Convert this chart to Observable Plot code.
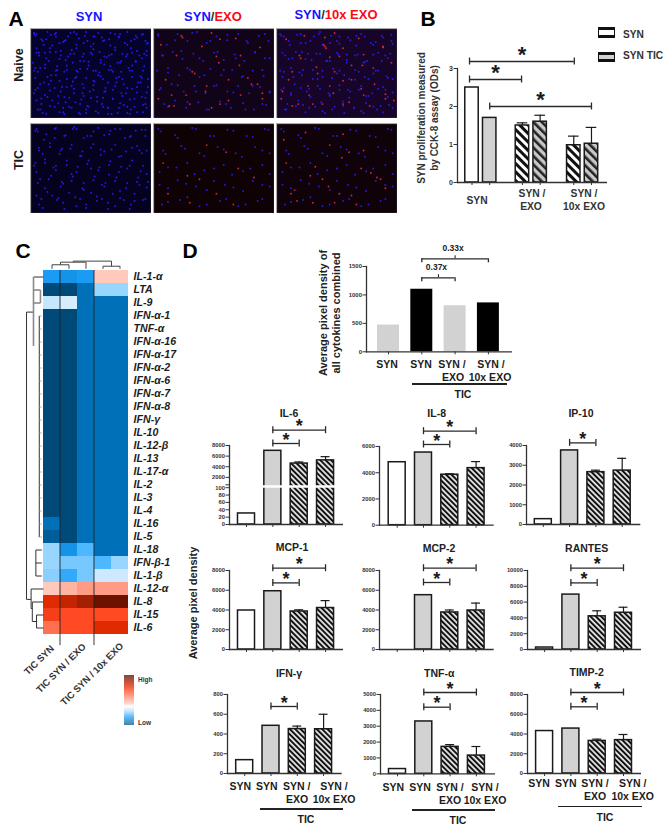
<!DOCTYPE html>
<html><head><meta charset="utf-8">
<script src="https://cdn.jsdelivr.net/npm/d3@7"></script>
<script src="https://cdn.jsdelivr.net/npm/@observablehq/plot@0.6"></script>
<style>
html,body{margin:0;padding:0;background:#fff}
#fig{position:relative;width:668px;height:828px;overflow:hidden;font-family:"Liberation Sans",Arial,sans-serif;color:#1c1c1c}
#fig .t{position:absolute;white-space:nowrap;font-weight:bold;line-height:1}
#fig>div>svg{overflow:visible}
</style></head><body><div id="fig"></div>
<script>
// ---------- Panel A: spots (percent of image width / height)
const aNaiveSynBlue=[[3,5],[9,12],[14,4],[21,9],[27,15],[33,5],[40,11],[46,4],[53,9],[60,14],[66,5],[73,10],[80,4],[86,12],[93,6],[97,16],[5,22],[12,27],[18,19],[25,25],[31,31],[38,22],[44,28],[50,20],[57,26],[63,32],[70,21],[76,28],[83,22],[90,30],[96,25],[2,38],[8,44],[15,36],[22,42],[28,48],[35,38],[41,45],[48,37],[54,47],[61,40],[67,46],[74,38],[81,44],[87,37],[94,42],[4,55],[11,60],[17,52],[24,58],[30,65],[37,55],[43,62],[52,58],[58,53],[64,60],[71,55],[77,62],[84,54],[91,60],[97,56],[3,72],[9,78],[16,69],[23,75],[29,82],[36,72],[42,79],[49,70],[55,76],[62,70],[68,78],[75,72],[82,79],[88,71],[95,77],[6,90],[13,95],[20,87],[27,93],[34,88],[41,95],[47,86],[54,92],[60,87],[67,95],[73,88],[80,94],[86,87],[93,93]];
const aNaiveSynRed=[[55,68],[42,88]];
const aNaiveExoBlue=[[4,8],[11,18],[20,6],[28,14],[36,4],[44,16],[52,9],[61,13],[70,6],[78,16],[87,8],[95,14],[7,30],[16,26],[24,34],[33,28],[41,36],[50,27],[58,35],[67,29],[75,36],[84,27],[92,33],[3,47],[12,44],[21,52],[30,46],[38,54],[47,45],[56,52],[65,46],[73,54],[82,47],[91,53],[6,66],[15,62],[25,70],[34,64],[43,72],[52,63],[61,70],[70,64],[79,72],[88,65],[96,71],[9,84],[18,80],[27,88],[37,82],[46,90],[55,81],[64,88],[74,83],[83,90],[93,85]];
const aNaiveExoRed=[[23,8],[48,5],[68,11],[88,21],[19,30],[52,31],[34,50],[71,41],[10,57],[62,57],[27,74],[81,62],[44,64],[4,78],[55,84],[30,84],[13,86],[72,74],[90,78],[40,20]];
const a10xBlue=[[3,6],[10,14],[17,7],[24,16],[31,9],[38,18],[45,8],[52,17],[59,10],[66,19],[73,9],[80,18],[88,10],[96,17],[5,27],[13,33],[21,26],[29,35],[36,28],[44,36],[51,29],[58,38],[65,30],[72,38],[80,29],[87,36],[94,28],[6,48],[14,54],[22,46],[30,56],[38,47],[46,55],[52,47],[60,56],[68,48],[76,56],[84,47],[92,55],[4,68],[12,74],[20,66],[28,76],[36,67],[44,75],[52,68],[60,77],[68,68],[76,75],[84,67],[92,76],[8,90],[16,86],[24,93],[32,87],[40,94],[48,87],[56,94],[64,88],[72,94],[80,87],[88,93],[96,88]];
const a10xRed=[[8,12],[40,10],[41,22],[39,18],[20,33],[55,22],[72,29],[88,20],[13,48],[33,43],[48,48],[62,41],[80,44],[95,38],[5,70],[26,64],[47,72],[55,58],[70,67],[90,73],[97,80],[18,84],[38,84],[60,82],[77,86],[44,32]];
const aTicSynBlue=[[5,6],[13,12],[21,5],[29,13],[38,6],[47,14],[56,5],[65,12],[74,6],[83,14],[92,7],[7,27],[16,22],[25,30],[34,24],[43,31],[52,23],[61,31],[70,24],[79,31],[88,25],[96,30],[4,44],[12,40],[21,47],[30,41],[39,48],[48,41],[57,49],[66,42],[75,48],[84,41],[93,47],[8,62],[17,58],[26,65],[35,59],[44,66],[53,59],[62,66],[71,60],[80,66],[89,60],[97,65],[5,80],[14,76],[23,83],[32,77],[41,84],[50,77],[59,84],[68,78],[77,85],[86,78],[95,84],[10,94],[28,95],[46,94],[64,95],[82,95]];
const aTicSynRed=[[6,12],[60,34],[35,44]];
const aTicExoBlue=[[6,9],[20,16],[35,6],[50,14],[66,8],[82,15],[95,7],[10,34],[26,28],[42,36],[58,29],[73,37],[90,30],[5,54],[19,49],[34,56],[50,50],[65,57],[80,50],[96,56],[12,72],[27,67],[44,74],[59,68],[74,75],[90,68],[7,90],[22,85],[38,92],[55,86],[70,92],[86,86]];
const aTicExoRed=[[44,24],[60,32],[28,58],[8,44],[70,50],[12,78],[52,78],[38,62],[83,60],[30,88],[66,90]];
const aTic10xBlue=[[4,6],[18,13],[32,5],[47,14],[61,7],[77,14],[92,6],[8,30],[23,25],[38,33],[53,26],[68,33],[84,26],[96,33],[12,49],[28,44],[42,52],[58,46],[74,53],[90,46],[5,68],[20,63],[35,70],[50,64],[66,71],[82,64],[96,70],[12,87],[28,82],[44,90],[60,84],[76,90],[90,84]];
const aTic10xRed=[[6,18],[24,10],[55,12],[54,38],[32,48],[78,55],[86,62],[15,74],[62,80],[43,70],[90,72],[17,86],[48,88],[72,30]];

// ---------- Panel B
const bValues=[2.5,1.7,1.5,1.6,0.98,1.02];
const bErrors=[null,null,1.57,1.77,1.22,1.45];

// ---------- Panel C
const heatColumns=["TIC SYN","TIC SYN / EXO","TIC SYN / 10x EXO"];
const heatLabels=["IL-1-α","LTA","IL-9","IFN-α-1","TNF-α","IFN-α-16","IFN-α-17","IFN-α-2","IFN-α-6","IFN-α-7","IFN-α-8","IFN-γ","IL-10","IL-12-β","IL-13","IL-17-α","IL-2","IL-3","IL-4","IL-16","IL-5","IL-18","IFN-β-1","IL-1-β","IL-12-α","IL-8","IL-15","IL-6"];
const flatRow=[-1,-1,-.8,-.8,-.8];
const heatValues=[[-.55,-.6,-.55,.1,.1],[-1,-1,-.8,-.25,-.25],[-.12,-.08,-.8,-.8,-.8],
flatRow,flatRow,flatRow,flatRow,flatRow,flatRow,flatRow,flatRow,flatRow,flatRow,flatRow,flatRow,flatRow,flatRow,flatRow,flatRow,
[-.8,-1,-.8,-.8,-.8],[-.9,-1,-.8,-.8,-.8],[-.25,-.6,-.4,-.8,-.8],[-.25,-.32,-.32,-.4,-.25],[-.28,-.48,-.32,-.1,-.1],
[.1,.17,.25,.25,.25],[.65,.72,.8,.95,.95],[.55,.5,.5,.5,.5],[.38,.5,.5,.65,.65]];
const heatStops=[-1,-.8,-.55,-.4,-.25,-.1,0,.1,.25,.5,.65,.8,1];
const heatColors=["#004a7a","#0070b8","#1a9cf5","#4db8ff","#99d6ff","#cce9ff","#ffffff","#ffc9bb","#ff9a85","#ff4a24","#e02a00","#a32000","#5c0d00"];
const colDendro=[[.5,-.44,1.5,-.44],[.5,-.44,.5,-.13],[1.5,-.44,1.5,-.13],[1,-.64,2.5,-.64],[1,-.64,1,-.44],[2.5,-.64,2.5,-.13],[3.5,-.33,4.5,-.33],[3.5,-.33,3.5,-.13],[4.5,-.33,4.5,-.13],[1.75,-.72,4,-.72],[1.75,-.72,1.75,-.64],[4,-.72,4,-.33]];
const rowDendro=[[-1,3.2,-1,25.3],[-1,3.2,-.59,3.2],[-1,25.3,-.73,25.3],[-.59,.5,0,.5],[-.25,3.5,-.25,20.5],[-.45,21.5,-.45,23.5],[-.45,21.5,-.1,21.5],[-.45,22.5,-.1,22.5],[-.45,23.5,-.1,23.5],[-.73,24.5,-.73,26],[-.73,24.5,0,24.5],[-.66,25.5,-.66,27],[-.73,26,-.66,26],[-.66,25.5,0,25.5],[-.41,26.5,-.41,27.5],[-.66,27,-.41,27],[-.41,26.5,0,26.5],[-.41,27.5,0,27.5]];
const rowDendroGrey=[[-.59,.5,-.59,5.8],[-.59,1.5,-.18,1.5],[-.59,2.5,-.18,2.5],[-.18,1.5,-.18,2.5]];

// ---------- Panel D
const combinedValues=[470,1100,810,860];
const il6Values=[30,7000,4600,5200],   il6Errors=[null,null,4900,5900];
const il8Values=[4800,5540,3850,4350], il8Errors=[null,null,3920,4850];
const ip10Values=[270,3750,2650,2730], ip10Errors=[null,null,2750,3350];
const mcp1Values=[3950,5900,3850,4200],mcp1Errors=[null,null,4020,4950];
const mcp2Values=[null,5500,3750,3950],mcp2Errors=[null,null,4000,4700];
const rantesValues=[250,6950,4200,4650],rantesErrors=[null,null,4900,5350];
const ifngValues=[135,483,450,448],    ifngErrors=[null,null,480,600];
const tnfValues=[300,3300,1700,1150],  tnfErrors=[null,null,1840,1720];
const timp2Values=[4300,4550,3300,3380],timp2Errors=[null,null,3480,3950];
const il6Ticks=[0,20,40,60,80,100,600,2000,4000,6000,8000];

// ---------- page helpers
const fig=document.getElementById("fig");
const FONT='"Liberation Sans",Arial,sans-serif';
function label(x,y,html,o={}){
  const d=document.createElement("div");d.className="t";d.innerHTML=html;
  d.style.left=x+"px";d.style.top=y+"px";d.style.fontSize=(o.size||10.5)+"px";
  if(o.color)d.style.color=o.color;
  d.style.transform=`translate(${o.start?"0":"-50%"},-50%) rotate(${o.rot||0}deg)`;
  fig.appendChild(d);return d;
}
function place(svg,left,top){
  const w=document.createElement("div");w.style.cssText=`position:absolute;left:${left}px;top:${top}px;line-height:0`;
  w.appendChild(svg);fig.appendChild(w);
}
function hline(x1,x2,y){const d=document.createElement("div");d.style.cssText=`position:absolute;left:${x1}px;top:${y-.6}px;width:${x2-x1}px;height:1.2px;background:#222`;fig.appendChild(d);}
fig.insertAdjacentHTML("beforeend",`<svg width="0" height="0" style="position:absolute"><defs>
<pattern id="hA" width="6" height="6" patternUnits="userSpaceOnUse" patternTransform="rotate(-45)"><rect width="6" height="6" fill="#fff"/><rect width="3" height="6" fill="#111"/></pattern>
<pattern id="hB" width="6" height="6" patternUnits="userSpaceOnUse" patternTransform="rotate(-45)"><rect width="6" height="6" fill="#c8c8c8"/><rect width="2.6" height="6" fill="#222"/></pattern>
<pattern id="hD" width="3.8" height="3.8" patternUnits="userSpaceOnUse" patternTransform="rotate(-45)"><rect width="3.8" height="3.8" fill="#e8e8e8"/><rect width="2" height="3.8" fill="#111"/></pattern>
</defs></svg>`);

// ---------- Panel A: each micrograph layers the spot lists that share its density
const micro=[
 [30,28,"#05032c",[aNaiveSynBlue,aNaiveExoBlue,a10xBlue,aTicSynBlue],aNaiveSynRed],
 [153,28,"#120418",[aNaiveExoBlue,aTic10xBlue],[aNaiveExoRed,aTic10xRed]],
 [276,28,"#160528",[a10xBlue,aNaiveExoBlue,aTicExoBlue],[a10xRed,aNaiveExoRed]],
 [30,122.7,"#05021f",[aTicSynBlue,aTicExoBlue,aNaiveExoBlue],aTicSynRed],
 [153,122.7,"#0e0205",[aTicExoBlue,aTic10xBlue],[aTicExoRed]],
 [276,122.7,"#0f0209",[aTic10xBlue,aTicExoBlue],[aTic10xRed,aTicExoRed]]];
for(const [l,t,bg,blue,red] of micro){
  place(Plot.plot({width:121,height:90,margin:0,style:{background:bg,overflow:"hidden"},
    x:{domain:[0,100],axis:null},y:{domain:[0,100],reverse:true,axis:null},
    marks:[
      Plot.dot(blue.flat(),{x:d=>d[0],y:d=>d[1],r:1,fill:"#2a1cff",fillOpacity:.85}),
      Plot.dot(red.flat().filter(d=>Array.isArray(d)?true:false).length?red.flat():[],{x:d=>d[0],y:d=>d[1],r:.95,fill:"#ff2c4a",fillOpacity:.8}),
      Plot.frame({stroke:"#a8a8a8",strokeWidth:1.2})
    ]}),l,t);
}
const BL="#1414ff",RD="#fa0a14";
label(89,16,`<span style="color:${BL}">SYN</span>`,{size:13});
label(213,16,`<span style="color:${BL}">SYN</span><span style="color:#333">/</span><span style="color:${RD}">EXO</span>`,{size:13});
label(336,14,`<span style="color:${BL}">SYN</span><span style="color:#333">/</span><span style="color:${RD}">10x EXO</span>`,{size:13});
label(19,65,"Naive",{size:12.5,rot:-90});label(19,160,"TIC",{size:12.5,rot:-90});
label(16,18,"A",{size:21,color:"#000"});label(428,18,"B",{size:21,color:"#000"});label(23,250,"C",{size:21,color:"#000"});label(190,250,"D",{size:21,color:"#000"});

// ---------- shared bar chart
function barChart(c){
  const H=c.yZero-c.yTop,L=c.xEnd-c.axisX,ml=34,mr=2,mt=12,mb=8;
  const ppu=c.ppu||H/c.yMax, yv=a=>c.yMax+a/ppu;
  const slots=c.slots||[0,1,2,3], half=c.half||.323, cap=c.cap||.17;
  const bars=c.values.map((v,i)=>({v,i,e:c.errors?c.errors[i]:null,fill:c.fills[i]})).filter(d=>d.v!=null);
  const errs=bars.filter(d=>d.e!=null);
  const br=c.brackets||[];
  const sw=c.barStroke===undefined?1.5:c.barStroke;
  const marks=[
    Plot.rect(bars,{x1:d=>slots[d.i]-half,x2:d=>slots[d.i]+half,y1:()=>0,y2:"v",fill:"fill",stroke:sw?"#1a1a1a":"none",strokeWidth:sw}),
    Plot.ruleX(errs,{x:d=>slots[d.i],y1:"v",y2:"e",stroke:"#1a1a1a",strokeWidth:1.2}),
    Plot.ruleY(errs,{x1:d=>slots[d.i]-cap,x2:d=>slots[d.i]+cap,y:"e",stroke:"#1a1a1a",strokeWidth:1.2})
  ];
  if(c.breakAt!==undefined) marks.push(Plot.ruleY([c.breakAt],{stroke:"#fff",strokeWidth:2.4}));
  const stars=br.filter(b=>!b.mark), tagged=br.filter(b=>b.mark);
  marks.push(
    Plot.ruleY([0],{stroke:"#333",strokeWidth:1.3}),
    Plot.frame({anchor:"left",stroke:"#333",strokeWidth:1.3}),
    Plot.axisX({ticks:slots,tickSize:3,tickFormat:()=>"",stroke:"#333",strokeWidth:1}),
    Plot.axisY({ticks:c.ticks,tickSize:3.5,tickPadding:1,fontSize:c.tickSizeFont||5.8,fontWeight:"bold",fill:"#333",stroke:"#333",strokeWidth:1,label:null,tickFormat:c.tickFormat||(d=>String(d))}),
    Plot.ruleY(br,{x1:"a",x2:"b",y:d=>yv(d.up),stroke:"#2a2a2a",strokeWidth:1.3}),
    Plot.text(stars,{x:d=>(d.a+d.b)/2,y:d=>yv(d.up),text:()=>"*",fontSize:c.starSize||18,fontWeight:"bold",dy:c.starDy===undefined?-3.5:c.starDy,fill:"#1a1a1a"}),
    Plot.text(tagged,{x:d=>(d.a+d.b)/2,y:d=>yv(d.up),text:"mark",fontSize:8.5,fontWeight:"bold",dy:-11,dx:-2,fill:"#222"})
  );
  for(const b of br){
    const capUp=c.capsDown?4:3.5,capDn=c.capsDown?0:3.5;
    marks.push(Plot.ruleX([b.a,b.b],{y1:()=>yv(b.up-capUp),y2:()=>yv(b.up+capDn),stroke:"#2a2a2a",strokeWidth:1.3}));
    if(c.capsDown) marks.push(Plot.ruleX([(b.a+b.b)/2],{y1:()=>yv(b.up),y2:()=>yv(b.up+3),stroke:"#2a2a2a",strokeWidth:1.1}));
  }
  place(Plot.plot({width:ml+L+mr,height:mt+H+mb,marginLeft:ml,marginRight:mr,marginTop:mt,marginBottom:mb,
    style:{background:"none",overflow:"visible",fontFamily:FONT},
    x:{domain:[(c.axisX-c.c1)/c.step,(c.xEnd-c.c1)/c.step],axis:null},
    y:{domain:[0,c.yMax],axis:null,label:null},color:{type:"identity"},marks}),c.axisX-ml,c.yTop-mt);
}
const miniFills=["#fff","#d2d2d2","url(#hD)","url(#hD)"];

// Panel B
barChart({axisX:457,xEnd:607,yTop:68,yZero:182,yMax:3,ticks:[0,1,2,3],c1:471.5,step:17.7,slots:[0,1,2.85,3.85,5.75,6.75],half:.38,cap:.3,
  values:bValues,errors:bErrors,fills:["#fff","#d2d2d2","url(#hA)","url(#hB)","url(#hA)","url(#hB)"],tickSizeFont:7,starSize:22,starDy:-7,
  brackets:[{a:-.14,b:5.78,up:7},{a:-.14,b:2.8,up:-11},{a:1,b:6.75,up:-38}]});
label(422,118,"SYN proliferation measured",{size:10,rot:-90,color:"#333"});
label(435,118,"by CCK-8 assay (ODs)",{size:10,rot:-90,color:"#333"});
label(477,201,"SYN",{size:10.3,color:"#333"});
label(532,194,"SYN /",{size:10.3,color:"#333"});label(531,207,"EXO",{size:10.3,color:"#333"});
label(584,194,"SYN /",{size:10.3,color:"#333"});label(584,207,"10x EXO",{size:10.3,color:"#333"});
for(const [t,bg,tx,ly] of [[27.3,"#fff","SYN",35],[51.7,"#d2d2d2","SYN TIC",56]]){
  const b=document.createElement("div");
  b.style.cssText=`position:absolute;left:598px;top:${t}px;width:15px;height:4.5px;background:${bg};border:solid #111;border-width:3px 1.5px`;
  fig.appendChild(b);label(623,ly,tx,{size:10.2,start:true,color:"#333"});
}

// ---------- Panel C
const heatCells=heatValues.flatMap((row,i)=>row.map((v,j)=>({j,i,v})));
const seg=(arr,o)=>Plot.link(arr,{x1:d=>d[0],y1:d=>d[1],x2:d=>d[2],y2:d=>d[3],...o});
place(Plot.plot({width:190,height:400,marginLeft:25,marginRight:62,marginTop:7,marginBottom:16,
  style:{background:"none",overflow:"visible",fontFamily:FONT},
  x:{domain:[-1.06,5],axis:null},y:{domain:[-1,28],reverse:true,axis:null},
  color:{type:"linear",domain:heatStops,range:heatColors},
  marks:[
    Plot.rect(heatCells,{x1:"j",x2:d=>d.j+1,y1:"i",y2:d=>d.i+1,fill:"v",shapeRendering:"crispEdges"}),
    seg(colDendro,{stroke:"#444",strokeWidth:1}),
    seg(rowDendro,{stroke:"#333",strokeWidth:1}),
    seg(rowDendroGrey,{stroke:"#8a8a8a",strokeWidth:1.6}),
    Plot.ruleY(heatLabels.slice(3,21),{y:(d,i)=>i+3.5,x1:()=>-.25,x2:()=>-.06,stroke:"#999",strokeWidth:.7}),
    Plot.ruleX([.97],{y1:()=>0,y2:()=>28.85,stroke:"#222",strokeWidth:.9}),
    Plot.ruleX([2.97],{y1:()=>0,y2:()=>28.85,stroke:"#222",strokeWidth:.9}),
    Plot.text(heatLabels,{x:()=>5.3,y:(d,i)=>i+.5,text:d=>d,textAnchor:"start",fontSize:10.6,fontWeight:"bold",fontStyle:"italic",fill:"#1c1c1c"})
  ]}),0,250);
label(39,660,heatColumns[0],{size:9.5,rot:-45,color:"#333"});
label(61,668,heatColumns[1],{size:9.5,rot:-45,color:"#333"});
label(92,674,heatColumns[2],{size:9.5,rot:-45,color:"#333"});
// colour key
const keyLevels=d3.range(-1,1,.02);
const keyY=d3.scaleLinear().domain([-1,-.08,.02,1]).range([0,16,19,50]);
place(Plot.plot({width:10,height:50,margin:0,style:{background:"none"},
  x:{domain:[0,1],axis:null},y:{domain:[0,50],axis:null},
  color:{type:"linear",domain:heatStops,range:heatColors},
  marks:[Plot.rect(keyLevels,{x1:()=>0,x2:()=>1,y1:d=>keyY(d),y2:d=>keyY(d+.02),fill:d=>d})]}),124,675);
label(138,680,"High",{size:6.5,start:true,color:"#333"});label(138,723,"Low",{size:6.5,start:true,color:"#333"});

// ---------- Panel D, combined chart
barChart({axisX:366,xEnd:512,yTop:265.7,yZero:351,yMax:1500,ticks:[0,500,1000,1500],c1:388,step:33.3,half:.33,values:combinedValues,
  fills:["#d2d2d2","#000","#d2d2d2","#000"],barStroke:0,capsDown:true,tickSizeFont:6,
  brackets:[{a:1,b:3,up:7.7,mark:"0.33x"},{a:1,b:2,up:-11.3,mark:"0.37x"}]});
label(323,313,"Average pixel density of",{size:11,rot:-90,color:"#222"});
label(336,313,"all cytokines combined",{size:11,rot:-90,color:"#222"});
function xLabels(pos,y1,y2,line,tic,size){
  const [a,b,c,d,e,f]=pos;
  label(a,y1,"SYN",{size});label(b,y1,"SYN",{size});label(c,y1,"SYN /",{size});label(d,y1,"SYN /",{size});
  label(e,y2,"EXO",{size});label(f,y2,"10x EXO",{size});
  hline(line[0],line[1],line[2]);label(tic[0],tic[1],"TIC",{size});
}
xLabels([387,421,452,491,453,490],364,377,[412,507,384],[463,394],10.5);

// Small multiples
const TL=(name,x,y)=>label(x,y,name,{size:10.5,color:"#222"});

// IL-6 has a broken axis: values are compressed onto a two-part ruler before they reach the y scale
const il6Warp=d3.scaleLinear().domain([0,100,600,8000]).range([0,36.8,39.7,79]);
const warpAll=a=>a.map(v=>v==null?null:il6Warp(v));
TL("IL-6",289,412.7);
barChart({axisX:229,xEnd:343,yTop:445.3,yZero:524.3,yMax:79,ppu:1,c1:246,step:26.35,breakAt:il6Warp(300),
  ticks:warpAll(il6Ticks),tickFormat:d=>{const t=il6Ticks.find(t=>Math.abs(il6Warp(t)-d)<1e-6);return t===600?"":String(t);},
  values:warpAll(il6Values),errors:warpAll(il6Errors),fills:miniFills,
  brackets:[{a:1,b:3,up:15.3},{a:1,b:2,up:2}]});

TL("IL-8",436.7,412.7);
barChart({axisX:379.3,xEnd:494,yTop:446,yZero:524.7,yMax:6000,ticks:[0,2000,4000,6000],c1:397,step:26.3,
  values:il8Values,errors:il8Errors,fills:miniFills,brackets:[{a:1,b:3,up:15.3},{a:1,b:2,up:2}]});

TL("IP-10",581,412.7);
barChart({axisX:525.7,xEnd:640,yTop:445.3,yZero:524.3,yMax:4000,ticks:[0,1000,2000,3000,4000],c1:542.5,step:26.3,
  values:ip10Values,errors:ip10Errors,fills:miniFills,brackets:[{a:1,b:2,up:2.6}]});

TL("MCP-1",292,547);
barChart({axisX:229,xEnd:343,yTop:570.3,yZero:649.3,yMax:8000,ticks:[0,2000,4000,6000,8000],c1:246,step:26.35,
  values:mcp1Values,errors:mcp1Errors,fills:miniFills,brackets:[{a:1,b:3,up:2.3},{a:1,b:2,up:-12.4}]});

TL("MCP-2",439,548);
barChart({axisX:379.3,xEnd:494,yTop:570.3,yZero:649.3,yMax:8000,ticks:[0,2000,4000,6000,8000],c1:397,step:26.3,
  values:mcp2Values,errors:mcp2Errors,fills:miniFills,brackets:[{a:1,b:3,up:2.3},{a:1,b:2,up:-12}]});

TL("RANTES",586.7,548);
barChart({axisX:526.7,xEnd:640.7,yTop:570.3,yZero:649.3,yMax:10000,ticks:[0,2000,4000,6000,8000,10000],c1:543.8,step:26.3,
  values:rantesValues,errors:rantesErrors,fills:miniFills,brackets:[{a:1,b:3,up:2.3},{a:1,b:2,up:-12.4}]});

label(192.7,603,"Average pixel density",{size:11,rot:-90,color:"#222"});

TL("IFN-γ",289,672.7);
barChart({axisX:227.3,xEnd:342,yTop:694,yZero:773,yMax:800,ticks:[0,200,400,600,800],c1:244.5,step:26.3,
  values:ifngValues,errors:ifngErrors,fills:miniFills,brackets:[{a:1,b:2,up:-12}]});
xLabels([240.3,266.7,296.7,334,297,334],786,798.5,[260,343,809],[306,819],10.5);

TL("TNF-α",439.3,673);
barChart({axisX:380,xEnd:495,yTop:694,yZero:773.3,yMax:5000,ticks:[0,1000,2000,3000,4000,5000],c1:397,step:26.3,
  values:tnfValues,errors:tnfErrors,fills:miniFills,brackets:[{a:1,b:3,up:2},{a:1,b:2,up:-12.7}]});
xLabels([393.3,420,450,485,450,485],786.7,800,[411.7,495,810],[458,820],10.5);

TL("TIMP-2",586.7,672);
barChart({axisX:526.7,xEnd:640.7,yTop:693.7,yZero:772.7,yMax:8000,ticks:[0,2000,4000,6000,8000],c1:543.8,step:26.3,
  values:timp2Values,errors:timp2Errors,fills:miniFills,brackets:[{a:1,b:3,up:2},{a:1,b:2,up:-12.3}]});
xLabels([539,565.7,595,632.7,595,632.7],783.3,796,[558,641.7,806.7],[605,817],10.5);
</script></body></html>
